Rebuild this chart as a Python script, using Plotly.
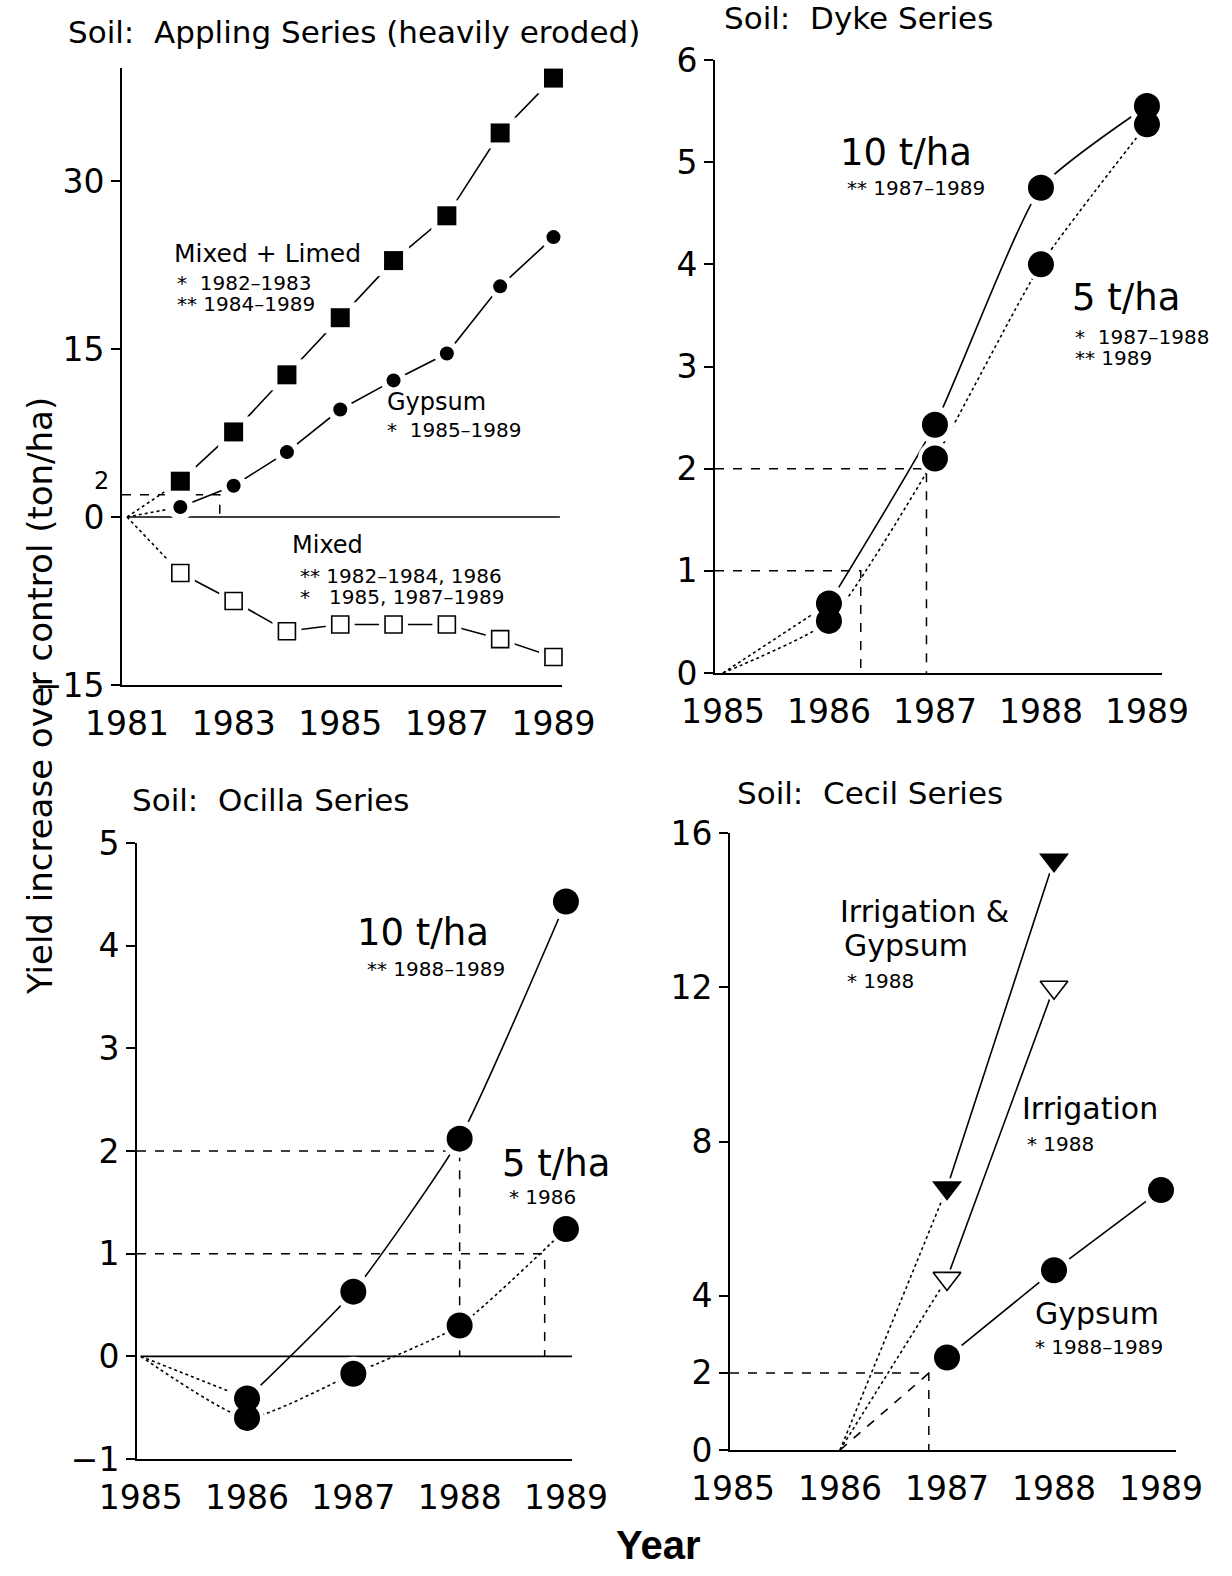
import plotly.graph_objects as go

W, H = 1232, 1576
FONT = "DejaVu Sans"

# ---------------- data ----------------
# Panel 1: Appling Series (heavily eroded)
appling_years = [1982, 1983, 1984, 1985, 1986, 1987, 1988, 1989]
appling_mixed_limed = [3.2, 7.6, 12.7, 17.8, 22.9, 26.9, 34.3, 39.2]
appling_gypsum = [0.9, 2.8, 5.8, 9.6, 12.2, 14.6, 20.6, 25.0]
appling_mixed = [-5.0, -7.5, -10.2, -9.6, -9.6, -9.6, -10.9, -12.5]

# Panel 2: Dyke Series
dyke_years = [1986, 1987, 1988, 1989]
dyke_10t = [0.68, 2.43, 4.75, 5.55]
dyke_5t = [0.51, 2.10, 4.00, 5.37]

# Panel 3: Ocilla Series
ocilla_years = [1986, 1987, 1988, 1989]
ocilla_10t = [-0.41, 0.63, 2.12, 4.43]
ocilla_5t = [-0.60, -0.17, 0.30, 1.24]

# Panel 4: Cecil Series
cecil_irr_years = [1987, 1988]
cecil_irr_gypsum = [6.8, 15.3]
cecil_irrigation = [4.45, 12.0]
cecil_gyp_years = [1987, 1988, 1989]
cecil_gypsum = [2.4, 4.66, 6.74]

# reference (time-to-threshold) levels: (level, year reached)
appling_refs = [(2, 1982.74)]
dyke_refs = [(1, 1986.30), (2, 1986.92)]
ocilla_refs = [(2, 1988.0), (1, 1988.8)]
cecil_refs = [(2, 1986.83)]

# tick labels
appling_xticks = [1981, 1983, 1985, 1987, 1989]
appling_yticks = [-15, 0, 15, 30]
dyke_xticks = [1985, 1986, 1987, 1988, 1989]
dyke_yticks = [0, 1, 2, 3, 4, 5, 6]
ocilla_xticks = [1985, 1986, 1987, 1988, 1989]
ocilla_yticks = [-1, 0, 1, 2, 3, 4, 5]
cecil_xticks = [1985, 1986, 1987, 1988, 1989]
cecil_yticks = [0, 2, 4, 8, 12, 16]


def px(x):
    return x / W


def py(y):
    return 1 - y / H


fig = go.Figure()

# panel layout (pixel domains)
panels = {
    1: dict(xd=(122, 562), yd=(68, 685), xr=[1980.906, 1989.16], yr=[-15, 40.1],
            xt=appling_xticks, yt=appling_yticks),
    2: dict(xd=(715, 1162), yd=(60, 673), xr=[1984.925, 1989.142], yr=[0, 6],
            xt=dyke_xticks, yt=dyke_yticks),
    3: dict(xd=(137, 572), yd=(843, 1459), xr=[1984.965, 1989.057], yr=[-1, 5],
            xt=ocilla_xticks, yt=ocilla_yticks),
    4: dict(xd=(730, 1176), yd=(833, 1450), xr=[1984.972, 1989.14], yr=[0, 16],
            xt=cecil_xticks, yt=cecil_yticks),
}

layout_axes = {}
for n, p in panels.items():
    xname = "xaxis" if n == 1 else f"xaxis{n}"
    yname = "yaxis" if n == 1 else f"yaxis{n}"
    layout_axes[xname] = dict(
        domain=[px(p["xd"][0]), px(p["xd"][1])], range=p["xr"],
        anchor="y" if n == 1 else f"y{n}",
        showline=True, linecolor="black", linewidth=2, ticks="",
        tickvals=p["xt"], ticktext=[str(t) for t in p["xt"]],
        ticklabelstandoff=8,
        showgrid=False, zeroline=False,
        tickfont=dict(family=FONT, size=33, color="black"),
    )
    layout_axes[yname] = dict(
        domain=[py(p["yd"][1]), py(p["yd"][0])], range=p["yr"],
        anchor="x" if n == 1 else f"x{n}",
        showline=True, linecolor="black", linewidth=2,
        ticks="outside", ticklen=9, tickwidth=1.5, tickcolor="black",
        tickvals=p["yt"], ticktext=[str(t).replace("-", "\u2212") for t in p["yt"]],
        showgrid=False, zeroline=False,
        tickfont=dict(family=FONT, size=33, color="black"),
    )


def axes(n):
    return ("x", "y") if n == 1 else (f"x{n}", f"y{n}")


line_traces, halo_traces, marker_traces = [], [], []


def add_markers(n, xs, ys, symbol, size, open_=False, halo=12):
    xa, ya = axes(n)
    base = symbol.replace("-open", "")
    halo_traces.append(go.Scatter(
        x=xs, y=ys, mode="markers", cliponaxis=False,
        marker=dict(symbol=base, size=size + halo, color="white", line=dict(width=0)),
        xaxis=xa, yaxis=ya, hoverinfo="skip", showlegend=False))
    if open_:
        mk = dict(symbol=base, size=size, color="white", line=dict(color="black", width=1.6))
    else:
        mk = dict(symbol=base, size=size, color="black", line=dict(width=0))
    marker_traces.append(go.Scatter(
        x=xs, y=ys, mode="markers", marker=mk, cliponaxis=False,
        xaxis=xa, yaxis=ya, hoverinfo="skip", showlegend=False))


def series(n, xs, ys, base_x, lead_dash, symbol, size, open_=False, spline=False):
    xa, ya = axes(n)
    line_traces.append(go.Scatter(
        x=[base_x, xs[0]], y=[0, ys[0]], mode="lines",
        line=dict(color="black", width=1.6, dash=lead_dash),
        xaxis=xa, yaxis=ya, hoverinfo="skip", showlegend=False))
    if len(xs) > 1:
        line_traces.append(go.Scatter(
            x=xs, y=ys, mode="lines",
            line=dict(color="black", width=1.6,
                      shape="spline" if spline else "linear", smoothing=0.5),
            xaxis=xa, yaxis=ya, hoverinfo="skip", showlegend=False))
    add_markers(n, xs, ys, symbol, size, open_)


def dotted_series(n, xs, ys, base_x, size):
    """5 t/ha style: dotted curve from the origin through all points."""
    xa, ya = axes(n)
    line_traces.append(go.Scatter(
        x=[base_x] + xs, y=[0] + ys, mode="lines",
        line=dict(color="black", width=1.6, dash="dot", shape="spline", smoothing=0.5),
        xaxis=xa, yaxis=ya, hoverinfo="skip", showlegend=False))
    add_markers(n, xs, ys, "circle", size, halo=8)


def refs(n, levels, x0):
    xa, ya = axes(n)
    for lvl, xr in levels:
        line_traces.append(go.Scatter(
            x=[x0, xr, xr], y=[lvl, lvl, 0], mode="lines",
            line=dict(color="black", width=1.5, dash="dash"),
            xaxis=xa, yaxis=ya, hoverinfo="skip", showlegend=False))


def zero_line(n, x0, x1):
    xa, ya = axes(n)
    line_traces.append(go.Scatter(
        x=[x0, x1], y=[0, 0], mode="lines", line=dict(color="black", width=1.6),
        xaxis=xa, yaxis=ya, hoverinfo="skip", showlegend=False))


# Panel 1
zero_line(1, 1981, 1989.12)
refs(1, appling_refs, panels[1]["xr"][0])
series(1, appling_years, appling_mixed_limed, 1981, "dot", "square", 19)
series(1, appling_years, appling_gypsum, 1981, "dot", "circle", 14)
series(1, appling_years, appling_mixed, 1981, "dot", "square-open", 17, open_=True)

# Panel 2
refs(2, dyke_refs, panels[2]["xr"][0])
series(2, dyke_years, dyke_10t, 1985, "dot", "circle", 26, spline=True)
dotted_series(2, dyke_years, dyke_5t, 1985, 26)

# Panel 3
zero_line(3, 1985, 1989.06)
refs(3, ocilla_refs, panels[3]["xr"][0])
series(3, ocilla_years, ocilla_10t, 1985, "dot", "circle", 26, spline=True)
dotted_series(3, ocilla_years, ocilla_5t, 1985, 26)

# Panel 4
refs(4, cecil_refs, panels[4]["xr"][0])
series(4, cecil_irr_years, cecil_irr_gypsum, 1986, "dot", "triangle-down", 26)
series(4, cecil_irr_years, cecil_irrigation, 1986, "dot", "triangle-down-open", 24, open_=True)
series(4, cecil_gyp_years, cecil_gypsum, 1986, "dash", "circle", 26)

for t in line_traces + halo_traces + marker_traces:
    fig.add_trace(t)

# ---------------- text ----------------
TITLE = 31
BIG = 37
MID = 25
SMALL = 20
texts = [
    # panel 1
    ("Soil:  Appling Series (heavily eroded)", 66, 32, TITLE),
    ("Mixed + Limed", 172, 253, MID),
    ("*  1982\u20131983", 175, 283, SMALL),
    ("** 1984\u20131989", 175, 304, SMALL),
    ("Gypsum", 385, 402, 24),
    ("*  1985\u20131989", 385, 430, SMALL),
    ("Mixed", 290, 545, 24),
    ("** 1982\u20131984, 1986", 298, 576, SMALL),
    ("*   1985, 1987\u20131989", 298, 597, SMALL),
    # panel 2
    ("Soil:  Dyke Series", 722, 18, TITLE),
    ("10 t/ha", 838, 153, BIG),
    ("** 1987\u20131989", 845, 188, SMALL),
    ("5 t/ha", 1070, 297, BIG),
    ("*  1987\u20131988", 1073, 337, SMALL),
    ("** 1989", 1073, 358, SMALL),
    # panel 3
    ("Soil:  Ocilla Series", 130, 800, TITLE),
    ("10 t/ha", 355, 933, BIG),
    ("** 1988\u20131989", 365, 969, SMALL),
    ("5 t/ha", 500, 1163, BIG),
    ("* 1986", 507, 1197, SMALL),
    # panel 4
    ("Soil:  Cecil Series", 735, 793, TITLE),
    ("Irrigation &", 838, 911, 30),
    ("Gypsum", 842, 945, 30),
    ("* 1988", 845, 981, SMALL),
    ("Irrigation", 1020, 1108, 30),
    ("* 1988", 1025, 1144, SMALL),
    ("Gypsum", 1033, 1313, 30),
    ("* 1988\u20131989", 1033, 1347, SMALL),
]
annotations = []
for txt, x, y, s in texts:
    annotations.append(dict(text=txt, x=px(x), y=py(y), xref="paper", yref="paper",
                            xanchor="left", yanchor="middle", showarrow=False,
                            font=dict(family=FONT, size=s, color="black")))

# small "2" tick label of the Appling panel
annotations.append(dict(text="2", x=px(111), y=2, xref="paper", yref="y", showarrow=False,
                        xanchor="right", yanchor="bottom", yshift=-2,
                        font=dict(family=FONT, size=24, color="black")))

annotations.append(dict(text="Yield increase over control (ton/ha)", x=px(40), y=py(696),
                        xref="paper", yref="paper", textangle=-90, showarrow=False,
                        xanchor="center", yanchor="middle",
                        font=dict(family=FONT, size=34, color="black")))
annotations.append(dict(text="<b>Year</b>", x=px(658), y=py(1545), xref="paper", yref="paper",
                        showarrow=False, xanchor="center", yanchor="middle",
                        font=dict(family="Liberation Sans", size=40, color="black")))

fig.update_layout(
    width=W, height=H, margin=dict(l=0, r=0, t=0, b=0),
    paper_bgcolor="white", plot_bgcolor="white", template="none",
    showlegend=False, annotations=annotations, **layout_axes,
)

fig.write_html("out.html", config={"displayModeBar": False},
               post_script="document.body.style.margin='0px';document.body.style.padding='0px';")
